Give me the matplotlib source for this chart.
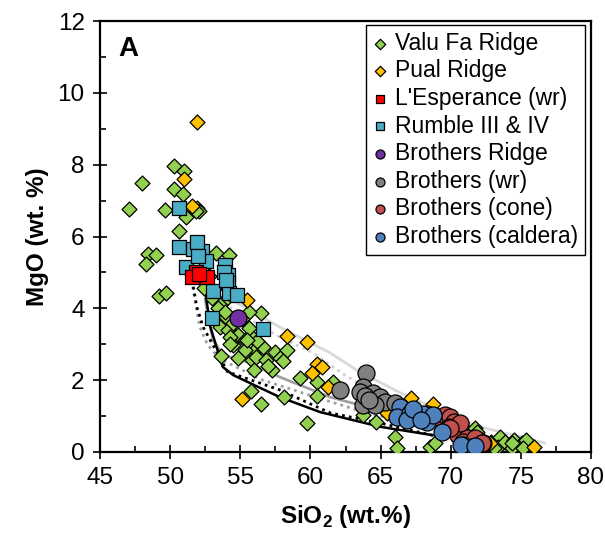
import numpy as np
import matplotlib.pyplot as plt
from matplotlib.ticker import MultipleLocator

plt.rcParams['font.family'] = ['Liberation Sans', 'DejaVu Sans']
plt.rcParams['mathtext.fontset'] = 'custom'
plt.rcParams['mathtext.rm'] = 'Liberation Sans'
plt.rcParams['mathtext.bf'] = 'Liberation Sans:bold'

# --- sample data (SiO2, MgO) ---
valu_sio2 = [47.1, 48.0, 48.4, 49.0, 48.25, 49.2, 49.7, 49.6, 50.3, 51.0, 50.3, 50.9,
             51.1, 51.95, 52.05, 51.85, 50.6, 53.3, 54.2, 52.4, 53.8, 53.55, 54.0, 56.5,
             55.6, 53.55, 54.15, 54.5, 54.85, 54.5, 55.35, 55.8, 56.05, 56.65, 55.35, 55.8,
             56.15, 56.85, 57.5, 57.85, 58.3, 58.05, 57.25, 56.0, 53.6, 54.25, 54.85, 59.25,
             60.45, 55.75, 56.5, 58.1, 60.5, 59.75, 61.6, 63.75, 64.7, 66.0, 66.15, 68.5,
             68.85, 71.75, 71.85, 72.9, 73.5, 73.4, 73.85, 74.35, 74.5, 75.05, 75.35, 75.15,
             74.35, 73.05, 52.8, 53.0, 53.4, 53.9, 54.3, 55.1, 55.6, 56.2, 57.0, 55.45]
valu_mgo = [6.76, 7.50, 5.52, 5.49, 5.24, 4.33, 4.44, 6.74, 7.95, 7.83, 7.32, 7.19,
            6.54, 6.79, 6.72, 6.70, 6.14, 5.53, 5.49, 4.56, 4.19, 4.09, 3.77, 3.86,
            3.91, 3.49, 3.40, 3.58, 3.26, 2.98, 3.12, 3.21, 2.84, 2.93, 2.84, 2.56,
            2.65, 2.56, 2.79, 2.61, 2.84, 2.52, 2.28, 2.28, 2.67, 3.21, 2.61, 2.05,
            1.96, 1.71, 1.34, 1.52, 1.56, 0.80, 1.96, 1.03, 0.84, 0.43, 0.10, 0.15,
            0.24, 0.66, 0.55, 0.29, 0.43, 0.15, 0.29, 0.10, 0.33, 0.24, 0.33, 0.10,
            0.24, 0.10, 4.90, 4.30, 4.00, 3.90, 3.00, 3.70, 3.45, 3.10, 2.40, 3.12]

pual_sio2 = [51.9, 51.0, 51.55, 55.45, 58.35, 59.75, 60.45, 60.8, 60.1, 61.25,
             55.15, 65.45, 67.15, 68.75, 72.8, 75.95]
pual_mgo = [9.20, 7.60, 6.86, 4.23, 3.23, 3.07, 2.45, 2.38, 2.19, 1.82,
            1.48, 1.08, 1.50, 1.33, 0.26, 0.15]

lesp_sio2 = [51.85, 51.55, 52.6, 52.05]
lesp_mgo = [5.00, 4.88, 4.86, 4.95]

rumble_sio2 = [50.65, 50.65, 51.65, 52.3, 51.95, 51.15, 52.55, 53.9, 54.15, 54.15,
               53.05, 54.2, 54.75, 53.0, 56.6, 53.85, 54.0, 52.0]
rumble_mgo = [6.79, 5.72, 5.65, 5.61, 5.86, 5.16, 5.33, 5.21, 4.93, 4.70,
              4.47, 4.44, 4.37, 3.72, 3.43, 5.00, 4.80, 5.45]

bridge_sio2 = [54.85]
bridge_mgo = [3.72]

bwr_sio2 = [62.1, 63.95, 63.75, 63.55, 64.45, 64.95, 65.3, 63.75, 64.6, 66.05, 63.9, 64.2]
bwr_mgo = [1.73, 2.21, 1.82, 1.68, 1.65, 1.54, 1.38, 1.31, 1.31, 1.36, 1.55, 1.45]

bcone_sio2 = [69.0, 69.6, 69.95, 70.2, 70.65, 69.85, 70.55, 71.15, 71.95, 72.3,
              70.65, 69.95, 70.9, 71.75, 72.2, 68.3]
bcone_mgo = [0.98, 1.03, 0.98, 0.84, 0.75, 0.70, 0.47, 0.38, 0.33, 0.24,
             0.80, 0.66, 0.29, 0.38, 0.24, 1.05]

bcal_sio2 = [66.4, 66.15, 67.1, 67.5, 68.3, 68.05, 68.75, 69.35, 70.9, 71.6,
             66.9, 70.75, 71.75, 67.3, 67.9]
bcal_mgo = [1.26, 0.98, 1.08, 0.98, 0.84, 1.05, 1.03, 0.57, 0.19, 0.15,
            0.90, 0.19, 0.17, 1.20, 0.90]

# --- model curves ---
blk_sol_x = [52.5, 52.85, 53.75, 54.5, 57.8, 60.7, 65.0, 68.7]
blk_sol_y = [4.5, 3.5, 2.37, 2.14, 1.53, 1.11, 0.70, 0.47]
blk_dot_x = [51.65, 51.9, 52.35, 54.1, 57.8, 61.4, 65.0, 69.2]
blk_dot_y = [4.6, 4.04, 3.48, 2.23, 1.73, 1.09, 0.80, 0.42]
gry_sol_x = [52.5, 53.05, 53.75, 55.5, 57.8, 61.4, 63.5, 66.0]
gry_sol_y = [4.23, 3.12, 2.70, 2.51, 2.09, 1.53, 1.31, 1.10]
gry_dot_x = [51.6, 52.1, 52.65, 53.5, 56.6, 60.2, 63.5, 67.0, 70.0]
gry_dot_y = [4.6, 3.5, 3.0, 2.6, 2.0, 1.55, 1.15, 0.8, 0.5]
lgt_sol_x = [54.75, 57.8, 61.4, 63.5, 66.4, 69.0, 72.1, 76.7]
lgt_sol_y = [4.15, 3.48, 2.76, 2.23, 1.65, 1.2, 0.70, 0.25]
lgt_dot_x = [54.25, 57.8, 60.2, 62.6, 65.0, 68.0, 71.0, 74.5]
lgt_dot_y = [4.04, 3.2, 2.76, 2.1, 1.6, 1.05, 0.6, 0.2]

fig = plt.figure(figsize=(6.05, 5.40), dpi=100)
ax = fig.add_axes([100 / 605, 88 / 540, 491 / 605, 431 / 540])

ax.plot(lgt_sol_x, lgt_sol_y, color='#d9d9d9', lw=2.0, zorder=1)
ax.plot(lgt_dot_x, lgt_dot_y, color='#d0d0d0', lw=2.0, ls=(0, (1, 1.5)), zorder=1)
ax.plot(gry_sol_x, gry_sol_y, color='#a0a0a0', lw=2.0, zorder=1)
ax.plot(gry_dot_x, gry_dot_y, color='#a0a0a0', lw=2.0, ls=(0, (1, 1.5)), zorder=1)
ax.plot(blk_sol_x, blk_sol_y, color='black', lw=1.8, zorder=1)
ax.plot(blk_dot_x, blk_dot_y, color='black', lw=2.0, ls=(0, (1, 1.5)), zorder=1)

ek = dict(edgecolors='black', linewidths=0.9)
ax.scatter(valu_sio2, valu_mgo, marker='D', s=58, c='#92D050', label='Valu Fa Ridge', zorder=3, **ek)
ax.scatter(pual_sio2, pual_mgo, marker='D', s=58, c='#FFC000', label='Pual Ridge', zorder=4, **ek)
ax.scatter(lesp_sio2, lesp_mgo, marker='s', s=95, c='#FF0000', label="L'Esperance (wr)", zorder=6, **ek)
ax.scatter(rumble_sio2, rumble_mgo, marker='s', s=95, c='#4BACC6', label='Rumble III & IV', zorder=5, **ek)
ax.scatter(bridge_sio2, bridge_mgo, marker='o', s=150, c='#7030A0', label='Brothers Ridge', zorder=6, **ek)
ax.scatter(bwr_sio2, bwr_mgo, marker='o', s=150, c='#808080', label='Brothers (wr)', zorder=6, **ek)
ax.scatter(bcone_sio2, bcone_mgo, marker='o', s=150, c='#C0504D', label='Brothers (cone)', zorder=6, **ek)
ax.scatter(bcal_sio2, bcal_mgo, marker='o', s=150, c='#4F81BD', label='Brothers (caldera)', zorder=7, **ek)

ax.set_xlim(45, 80)
ax.set_ylim(0, 12)
ax.xaxis.set_major_locator(MultipleLocator(5))
ax.xaxis.set_minor_locator(MultipleLocator(2.5))
ax.yaxis.set_major_locator(MultipleLocator(2))
ax.yaxis.set_minor_locator(MultipleLocator(1))
ax.tick_params(which='major', direction='inout', length=10, width=1.2, labelsize=17.5, pad=6)
ax.tick_params(which='minor', direction='in', length=4, width=1.2)
for sp in ax.spines.values():
    sp.set_linewidth(1.6)

ax.set_xlabel(r'SiO$_\mathbf{2}$ (wt.%)', fontsize=17.5, fontweight='bold', labelpad=10)
ax.set_ylabel('MgO (wt. %)', fontsize=17.5, fontweight='bold', labelpad=6)

ax.text(0.037, 0.935, 'A', transform=ax.transAxes, fontsize=20, fontweight='bold',
        ha='left', va='center')

leg = ax.legend(loc='upper right', bbox_to_anchor=(0.988, 0.991), fontsize=16.5,
                frameon=True, fancybox=False, edgecolor='black', framealpha=1,
                handlelength=0.6, handletextpad=0.35,
                labelspacing=0.2, borderpad=0.3, borderaxespad=0)
leg.get_frame().set_linewidth(1.0)
# small legend symbols, as in the original
for h, sz in zip(leg.legend_handles, [28, 28, 36, 36, 42, 42, 42, 42]):
    h.set_sizes([sz])

fig.savefig('out.png', dpi=100)
